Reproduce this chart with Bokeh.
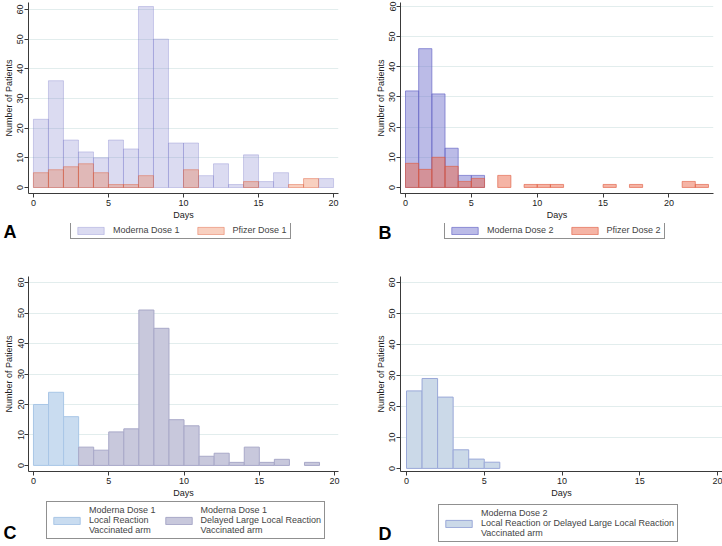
from bokeh.plotting import figure
from bokeh.layouts import column, row
from bokeh.models import Range1d, Legend, LegendItem, Label, FixedTicker, ColumnDataSource
from bokeh.embed import file_html
from bokeh.resources import INLINE

FONT = "Liberation Sans"

# ---------------- data (counts per 1-day bin, starting at day 0) ----------------
a_moderna_dose1 = [23, 36, 16, 12, 10, 16, 13, 61, 50, 15, 15, 4, 8, 1, 11, 2, 5, 0, 0, 3]
a_pfizer_dose1 = [5, 6, 7, 8, 5, 1, 1, 4, 0, 0, 6, 0, 0, 0, 2, 0, 0, 1, 3, 0]
b_moderna_dose2 = [32, 46, 31, 13, 4, 4]
b_pfizer_dose2 = [8, 6, 10, 7, 2, 3, 0, 4, 0, 1, 1, 1, 0, 0, 0, 1, 0, 1, 0, 0, 0, 2, 1]
c_local_reaction = [20, 24, 16]
c_delayed_reaction = [0, 0, 0, 6, 5, 11, 12, 51, 45, 15, 13, 3, 4, 1, 6, 1, 2, 0, 1]
d_moderna_dose2 = [25, 29, 23, 6, 3, 2]

x_ticks = [0, 5, 10, 15, 20]
y_ticks = [0, 10, 20, 30, 40, 50, 60]
y_grid = [10, 20, 30, 40, 50, 60]

legend_a = ["Moderna Dose 1", "Pfizer Dose 1"]
legend_b = ["Moderna Dose 2", "Pfizer Dose 2"]
legend_c = ["Moderna Dose 1\nLocal Reaction\nVaccinated arm",
            "Moderna Dose 1\nDelayed Large Local Reaction\nVaccinated arm"]
legend_d = ["Moderna Dose 2\nLocal Reaction or Delayed Large Local Reaction\nVaccinated arm"]

# styles: (fill, fill_alpha, line, line_alpha)
st_a1 = ("#7f7fcc", 0.28, "#7f7fcc", 0.35)
st_a2 = ("#eb784b", 0.35, "#e0603c", 0.45)
st_b1 = ("#7070cc", 0.48, "#6a6ac8", 0.7)
st_b2 = ("#eb6a4b", 0.5, "#e0583c", 0.6)
st_c1 = ("#c9dcf0", 1.0, "#a9c6e6", 1.0)
st_c2 = ("#c8c8dc", 1.0, "#a8a8c8", 1.0)
st_d1 = ("#cbd9e8", 1.0, "#9aa8d8", 1.0)

W = 361


def bins(counts):
    left = [i for i, c in enumerate(counts) if c > 0]
    return ColumnDataSource(dict(left=left, right=[i + 1 for i in left],
                                 top=[counts[i] for i in left], bottom=[0] * len(left)))


def make_fig(xr, yr, h, bl, br, bt, bb):
    p = figure(width=W, height=h, min_border_left=bl, min_border_right=br,
               min_border_top=bt, min_border_bottom=bb,
               x_range=Range1d(*xr), y_range=Range1d(*yr),
               output_backend="svg", toolbar_location=None)
    p.outline_line_color = None
    p.xgrid.visible = False
    p.ygrid.ticker = FixedTicker(ticks=y_grid)
    p.ygrid.grid_line_color = "#e2eded"
    p.xaxis.ticker = FixedTicker(ticks=x_ticks)
    p.yaxis.ticker = FixedTicker(ticks=y_ticks)
    for ax in (p.xaxis[0], p.yaxis[0]):
        ax.axis_line_color = "#3a3a3a"
        ax.major_tick_line_color = "#3a3a3a"
        ax.minor_tick_line_color = None
        ax.major_tick_out = 4
        ax.major_tick_in = 0
        ax.major_label_text_font = FONT
        ax.major_label_text_font_size = "9px"
        ax.major_label_text_color = "#222222"
        ax.axis_label_text_font = FONT
        ax.axis_label_text_font_size = "9px"
        ax.axis_label_text_font_style = "normal"
        ax.axis_label_text_color = "#222222"
        ax.major_label_standoff = 2
        ax.axis_label_standoff = 1
    p.yaxis.major_label_standoff = 1
    p.xaxis.axis_label = "Days"
    p.yaxis.axis_label = "Number of Patients"
    p.yaxis.major_label_orientation = "parallel"
    return p


def quads(p, counts, st):
    fill, fa, line, la = st
    return p.quad(left="left", right="right", top="top", bottom="bottom", source=bins(counts),
                  fill_color=fill, fill_alpha=fa, line_color=line, line_alpha=la, line_width=1)


def bare_fig(w, h):
    # the y range lies far below the data, so series drawn here only feed legend keys
    q = figure(width=w, height=h, min_border=0, min_border_left=0, min_border_right=0,
               min_border_top=0, min_border_bottom=0,
               x_range=Range1d(0, w), y_range=Range1d(-300, -300 + h),
               x_axis_location=None, y_axis_location=None, output_backend="svg",
               toolbar_location=None)
    q.grid.visible = False
    q.outline_line_color = None
    return q


def bottom_strip(h, lw, series, labels, styles, loc, letter, letter_x, letter_y, spacing=14, lh=9):
    lf = bare_fig(lw, h)
    lf.add_layout(Label(x=letter_x, y=letter_y, x_units="screen", y_units="screen", text=letter,
                        text_font=FONT, text_font_size="18px", text_font_style="bold",
                        text_color="black", text_baseline="alphabetic"))
    q = bare_fig(W - lw, h)
    rends = [quads(q, s, st) for s, st in zip(series, styles)]
    items = [LegendItem(label=l, renderers=[r]) for l, r in zip(labels, rends)]
    leg = Legend(items=items, orientation="horizontal", location=loc,
                 border_line_color="#222222", border_line_width=1, padding=3,
                 spacing=spacing, glyph_width=33, glyph_height=9, label_standoff=6,
                 label_text_font=FONT, label_text_font_size="9px", margin=0,
                 label_height=lh, label_text_line_height=1.15)
    q.add_layout(leg, "center")
    return row(lf, q)


# ---------------- Panel A ----------------
pA = make_fig((-0.33, 20.33), (-2.02, 62.36), 223, 26, 23, 2, 30)
quads(pA, a_moderna_dose1, st_a1)
quads(pA, a_pfizer_dose1, st_a2)
sA = bottom_strip(50, 26, [a_moderna_dose1, a_pfizer_dose1], legend_a, [st_a1, st_a2],
                  (44, 34), "A", 3, 42)

# ---------------- Panel B ----------------
pB = make_fig((-0.38, 23.38), (-2.0, 61.3), 223, 39, 9, 2, 30)
quads(pB, b_moderna_dose2, st_b1)
quads(pB, b_pfizer_dose2, st_b2)
sB = bottom_strip(50, 39, [b_moderna_dose2, b_pfizer_dose2], legend_b, [st_b1, st_b2],
                  (44, 34), "B", 17, 41)

# ---------------- Panel C ----------------
pC = make_fig((-0.33, 20.26), (-2, 62), 228, 26, 23, 3, 30)
quads(pC, c_local_reaction, st_c1)
quads(pC, c_delayed_reaction, st_c2)
sC = bottom_strip(45, 26, [c_local_reaction, c_delayed_reaction], legend_c, [st_c1, st_c2],
                  (20, 7), "C", 3, 14, spacing=6)

# ---------------- Panel D ----------------
pD = make_fig((-0.386, 20.32), (-1.0, 61.9), 228, 39, 0, 3, 30)
quads(pD, d_moderna_dose2, st_d1)
sD = bottom_strip(45, 39, [d_moderna_dose2], legend_d, [st_d1], (38, 4), "D", 17, 13)

layout = column(row(column(pA, sA), column(pB, sB)), row(column(pC, sC), column(pD, sD)))

open("out.html", "w").write(file_html(layout, INLINE))
